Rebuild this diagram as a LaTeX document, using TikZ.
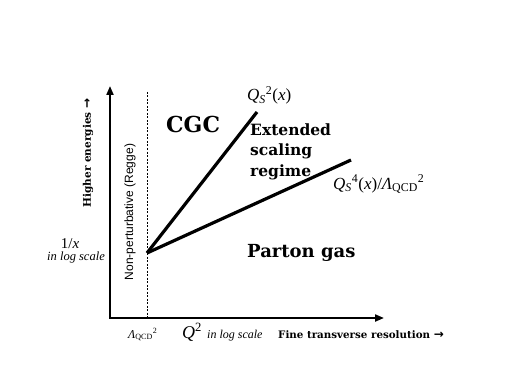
\documentclass[tikz,border=0pt]{standalone}
\usepackage{fontspec}
\setmainfont{Liberation Serif}
\newfontfamily\dvs{DejaVu Serif}
\newfontfamily\dvsans{DejaVu Sans}
\newfontfamily\lsans{Liberation Sans}
\usetikzlibrary{arrows.meta}
\newcommand{\fsz}[1]{\fontsize{#1}{#1}\selectfont}
\newcommand{\barrow}{{\dvsans\bfseries\fontsize{12}{12}\selectfont →}}
\begin{document}
\begin{tikzpicture}[x=1pt,y=-1pt]
\useasboundingbox (0,0) rectangle (529,374);
\tikzset{
  axis/.style={line width=2pt, line join=miter, {Triangle[length=9pt,width=7pt]}-{Triangle[length=9pt,width=7pt]}},
  boundary/.style={line width=3.2pt},
  guide/.style={line width=0.6pt, dash pattern=on 2pt off 1.5pt},
  reg/.style={font=\dvs\bfseries, inner sep=0, anchor=base west, align=left},
  lab/.style={inner sep=0, anchor=base west},
}
% geometry
\coordinate (O) at (110,318);
\coordinate (ytip) at (110,86);
\coordinate (xtip) at (384,318);
\coordinate (apex) at (147,253);
\coordinate (l1) at (257,112);
\coordinate (l2) at (351,160);
\coordinate (dtop) at (147,92);
\coordinate (dbot) at (147,318);
\draw[axis] (ytip) -- (O) -- (xtip);
\draw[guide] (dtop) -- (dbot);
\draw[boundary] (apex) -- (l1);
\draw[boundary] (apex) -- (l2);
% region labels
\node[reg, font=\dvs\bfseries\fsz{22}] (cgc) at (166,133) {CGC};
\node[reg, font=\dvs\bfseries\fontsize{15.5}{20.5}\selectfont, align=left] (ext) at (250,176) {Extended\\scaling\\regime};
\node[reg, font=\dvs\bfseries\fsz{18}] (pg) at (247,257) {Parton gas};
% curve labels
\node[lab, font=\fsz{17}] (qs2) at (247,101) {\textit{Q}\textsubscript{\textit{S}}\textsuperscript{2}(\textit{x})};
\node[lab, font=\fsz{17}] (qs4) at (333,189) {\textit{Q}\textsubscript{\textit{S}}\textsuperscript{4}(\textit{x})/\textit{Λ}\textsubscript{QCD}\textsuperscript{2}};
% axis labels
\node[inner sep=0, anchor=base, font=\fsz{15}] (inv) at (70,248) {1/\textit{x}};
\node[inner sep=0, anchor=base, font=\itshape\fsz{12.5}] (ls1) at (76,260) {in log scale};
\node[inner sep=0, rotate=90, font=\dvs\bfseries\fsz{10.5}] (he) at (88,153) {Higher energies \barrow};
\node[inner sep=0, rotate=90, font=\lsans\fsz{12}] (np) at (130,212) {Non-perturbative (Regge)};
\node[lab, font=\fsz{12}] (lam) at (128,338) {\textit{Λ}\textsubscript{QCD}\textsuperscript{2}};
\node[lab, font=\fsz{18}] (q2) at (182,338) {\textit{Q}\textsuperscript{2}};
\node[lab, font=\itshape\fsz{12}] (ls2) at (207,338) {in log scale};
\node[lab, font=\dvs\bfseries\fsz{10.3}] (ftr) at (278,338) {Fine transverse resolution \barrow};
\end{tikzpicture}
\end{document}
